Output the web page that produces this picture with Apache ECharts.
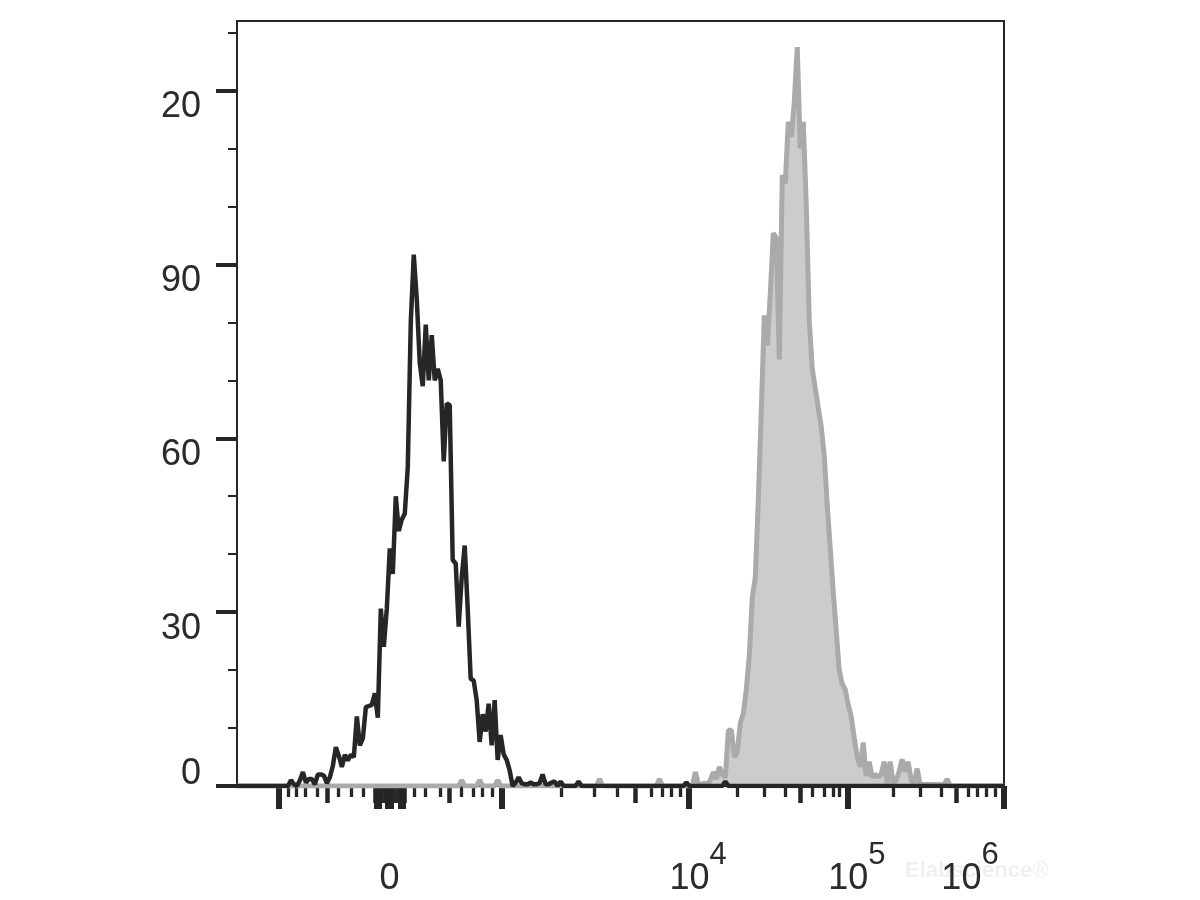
<!DOCTYPE html>
<html><head><meta charset="utf-8">
<script src="https://cdn.jsdelivr.net/npm/echarts@6/dist/echarts.min.js"></script>
<style>html,body{margin:0;padding:0;background:#fff}#c{width:1200px;height:900px}</style>
</head><body><div id="c"></div><script>
// Histogram counts per display channel (256-channel biexponential display)
const blackHist = [[0,0],[17,0],[18,1],[19,0.3],[20,0],[21,1],[22,2.4],[23,0.6],[24,1.2],[25,1.2],[26,0.3],[27,2],[28,2],[29,1.8],[30,0.5],[31,1.5],[32,3.5],[33,6.7],[34,5.2],[35,3.3],[36,5.4],[37,4.4],[38,5.4],[39,5],[40,12],[41,7],[42,8.2],[43,13.6],[44,13.8],[45,14],[46,16],[47,11.8],[48,30.6],[49,24],[50,30.6],[51,41],[52,36.6],[53,50],[54,44],[55,46],[56,47],[57,55],[58,80],[59,91.7],[60,84],[61,73],[62,69],[63,79.6],[64,70],[65,77.8],[66,70],[67,72],[68,70],[69,56],[70,66],[71,65.7],[72,39],[73,38.4],[74,27.5],[75,36],[76,41.5],[77,30.6],[78,18.5],[79,18.2],[80,14.8],[81,7.6],[82,12.4],[83,9.4],[84,14.2],[85,7],[86,14.8],[87,4.5],[88,8.8],[89,5.5],[90,4.5],[91,2.7],[92,0],[93,0.6],[94,1.5],[95,0.5],[96,0.3],[97,0.3],[98,0.6],[99,0.3],[100,0.3],[101,0.5],[102,2],[103,0.3],[104,0.3],[105,0.6],[106,0.8],[107,0],[108,0.8],[109,0],[113,0],[114,0.8],[115,0],[149,0],[150,0.6],[151,0],[162,0],[163,0.8],[164,0],[256,0]];
const greyHist = [[0,0],[29,0],[74,0],[75,1],[76,0],[80,0],[81,1],[82,0],[86,0],[87,1],[88,0],[120,0],[121,1.2],[122,0],[140,0],[141,1.2],[142,0],[152,0],[153,2.4],[154,0.3],[155,0.3],[156,0.5],[157,0.3],[158,1],[159,2.4],[160,1.2],[161,3.3],[162,2],[163,1.5],[164,9.6],[165,9.6],[166,5],[167,5.9],[168,10.9],[169,12.5],[170,16.7],[171,22.6],[172,32.6],[173,36],[174,49.4],[175,65],[176,81.2],[177,76],[178,85],[179,95.4],[180,94.6],[181,73.6],[182,105.4],[183,104],[184,114.6],[185,112],[186,118],[187,127.5],[188,110],[189,114.6],[190,100.4],[191,80.3],[192,72],[193,68.6],[194,65.3],[195,62],[196,57],[197,48.5],[198,41],[199,33.5],[200,26.8],[201,20],[202,17.6],[203,16.7],[204,14],[205,12],[206,8.4],[207,5],[208,3.3],[209,7.5],[210,1.7],[211,4.2],[212,1.5],[213,2],[214,1.5],[215,2],[216,4.2],[217,0.5],[218,4.2],[219,0.5],[220,1],[221,2.5],[222,4.6],[223,2.5],[224,4.2],[225,1],[226,0.5],[227,3],[228,0.3],[236,0.2],[237,1.2],[238,0],[256,0]];

const yTickValues = [0, 30, 60, 90, 120];
const yTickLabels = ['0', '30', '60', '90', '20'];
const yMinorTicks = [10, 20, 40, 50, 70, 80, 100, 110, 130];

// x ticks, in display channels
const xMajorTicks = [14.0, 50.9, 88.4, 150.9, 203.9, 256];
const xZeroLongTicks = [46.3, 47.6, 50.1, 51.5, 54.4, 55.5];
const xZeroMediumTicks = [45.8, 46.5, 47.2, 47.9, 48.6, 49.3, 50.0, 50.7, 51.4, 52.1, 52.8, 53.5, 54.2, 54.9, 55.6, 56.0];
const xMediumTicks = [30.0, 70.8, 132.9, 188.0, 240.0];
const xMinorTicks = [17.0, 19.9, 22.9, 26.9, 33.9, 38.1, 42.1, 59.1, 62.8, 68.0, 75.0, 79.0, 81.9, 85.1, 108.1, 119.1, 126.9, 138.1, 142.0, 145.1, 148.1, 167.0, 175.9, 183.0, 192.0, 196.0, 199.0, 201.0, 219.1, 228.2, 235.0, 244.1, 247.1, 250.0, 253.0];
const xLabelValues = [50.9, 150.9, 203.9, 256];
const xLabelBase = ['0', '10', '10', '10'];
const xLabelExp = ['', '4', '5', '6'];

const FONT = 'Liberation Sans, Arial, sans-serif';
const INK = '#262626';
const TXT = '#2b2b2b';

function tickXAxis(values, len, width, showLine) {
  return {
    type: 'value', min: 0, max: 256, position: 'bottom',
    axisLine: { show: showLine, onZero: false, lineStyle: { color: INK, width: 2 } },
    axisTick: { show: true, customValues: values, length: len, lineStyle: { color: INK, width: width } },
    axisLabel: { show: false }, splitLine: { show: false }
  };
}
function idxOf(arr, v) {
  for (let i = 0; i < arr.length; i++) if (Math.abs(arr[i] - v) < 1e-6) return i;
  return -1;
}

const chart = echarts.init(document.getElementById('c'), null, { renderer: 'canvas' });
chart.setOption({
  animation: false,
  backgroundColor: '#ffffff',
  grid: { left: 237, right: 196, top: 21, bottom: 114, show: true, borderColor: INK, borderWidth: 2, backgroundColor: 'transparent' },
  xAxis: [
    tickXAxis(xMajorTicks, 23, 6, true),
    tickXAxis(xZeroLongTicks, 23, 4, false),
    tickXAxis(xZeroMediumTicks, 17, 2.6, false),
    tickXAxis(xMediumTicks, 17, 4.5, false),
    tickXAxis(xMinorTicks, 11, 3.3, false),
    {
      type: 'value', min: 0, max: 256, position: 'bottom',
      axisLine: { show: false }, axisTick: { show: false }, splitLine: { show: false },
      axisLabel: {
        show: true, customValues: xLabelValues, margin: 61,
        formatter: function (v) {
          const i = idxOf(xLabelValues, v);
          if (i < 0) return '';
          if (xLabelExp[i] === '') return '{z|' + xLabelBase[i] + '}';
          if (i === xLabelValues.length - 1) return '{b6|' + xLabelBase[i] + '}{s6|' + xLabelExp[i] + '}';
          return '{b|' + xLabelBase[i] + '}{s|' + xLabelExp[i] + '}';
        },
        rich: {
          z: { fontSize: 36, lineHeight: 40, padding: [24, 0, 0, 0], color: TXT, fontFamily: FONT },
          b: { fontSize: 36, lineHeight: 40, padding: [24, 0, 0, 18], color: TXT, fontFamily: FONT },
          s: { fontSize: 31, lineHeight: 40, padding: [0, 0, 24, 0], color: TXT, fontFamily: FONT },
          b6: { fontSize: 36, lineHeight: 40, padding: [24, 0, 0, 0], color: TXT, fontFamily: FONT },
          s6: { fontSize: 31, lineHeight: 40, padding: [0, 68, 24, 0], color: TXT, fontFamily: FONT }
        }
      }
    }
  ],
  yAxis: [
    {
      type: 'value', min: 0, max: 132, position: 'left',
      axisLine: { show: true, onZero: false, lineStyle: { color: INK, width: 2 } },
      axisTick: { show: true, customValues: yTickValues, length: 21, lineStyle: { color: INK, width: 4 } },
      axisLabel: {
        show: true, customValues: yTickValues.slice(1), margin: 36, verticalAlign: 'top',
        fontSize: 36, lineHeight: 33, color: TXT, fontFamily: FONT,
        formatter: function (v) { const i = idxOf(yTickValues, v); return i < 0 ? '' : yTickLabels[i]; }
      },
      splitLine: { show: false }
    },
    {
      type: 'value', min: 0, max: 132, position: 'left',
      axisLine: { show: false },
      axisTick: { show: true, customValues: yMinorTicks, length: 9, lineStyle: { color: INK, width: 2 } },
      axisLabel: { show: false }, splitLine: { show: false }
    },
    {
      type: 'value', min: 0, max: 132, position: 'left',
      axisLine: { show: false }, axisTick: { show: false }, splitLine: { show: false },
      axisLabel: {
        show: true, customValues: [yTickValues[0]], margin: 36, verticalAlign: 'bottom',
        fontSize: 36, lineHeight: 24, color: TXT, fontFamily: FONT,
        formatter: function (v) { const i = idxOf(yTickValues, v); return i < 0 ? '' : yTickLabels[i]; }
      }
    }
  ],
  graphic: [
    { type: 'text', left: 905, top: 860, z: -1, style: { text: 'Elabscience®', fontSize: 22, fontWeight: 'bold', fill: '#f0f0f0', fontFamily: FONT } }
  ],
  series: [
    {
      type: 'line', data: greyHist, xAxisIndex: 0, yAxisIndex: 0, showSymbol: false, smooth: false, z: 2,
      lineStyle: { color: '#aaaaaa', width: 5 },
      areaStyle: { color: '#cccccc', opacity: 1 }
    },
    {
      type: 'line', data: blackHist, xAxisIndex: 0, yAxisIndex: 0, showSymbol: false, smooth: false, z: 3,
      lineStyle: { color: INK, width: 4.5 }
    }
  ]
});
</script></body></html>
